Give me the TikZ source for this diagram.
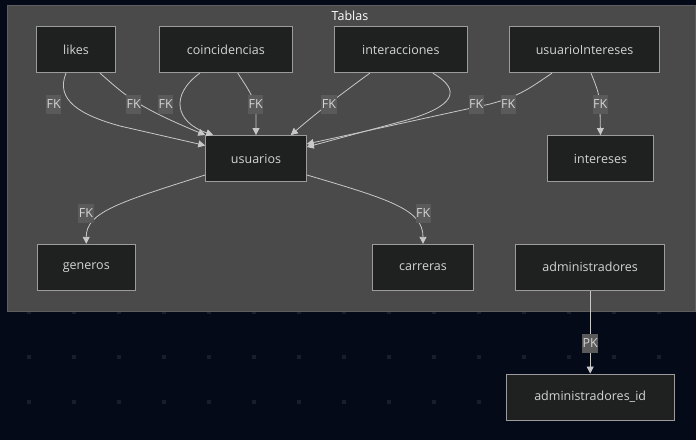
\documentclass[tikz,border=0pt]{standalone}
\usepackage{fontspec}
\setmainfont{Open Sans}
\usetikzlibrary{arrows.meta,calc}
\definecolor{bgc}{HTML}{050A18}
\definecolor{dotc}{HTML}{1A1E2B}
\definecolor{clfill}{HTML}{4A4A4A}
\definecolor{cldraw}{HTML}{5E5E5E}
\definecolor{nodefill}{HTML}{1F2020}
\definecolor{nodedraw}{HTML}{9C9C9C}
\definecolor{txtc}{HTML}{D4D4D4}
\definecolor{edgec}{HTML}{C8C8C8}
\definecolor{lblfill}{HTML}{5A5A5A}
\begin{document}
\begin{tikzpicture}[x=1pt,y=-1pt,
  tbl/.style={draw=nodedraw, fill=nodefill, line width=0.9pt, text=txtc,
    font=\fontsize{12.5}{14}\selectfont, minimum height=46pt, inner sep=0pt},
  lbl/.style={fill=lblfill, text=txtc, font=\fontsize{12.5}{14}\selectfont,
    inner xsep=0.5pt, inner ysep=0pt, minimum height=19pt},
  edge/.style={draw=edgec, line width=0.8pt, -{Triangle[length=7pt,width=7pt]}}]
\fill[bgc] (0,0) rectangle (696,440);
\useasboundingbox (0,0) rectangle (696,440);
\foreach \i in {0,...,15} {
  \foreach \j in {0,...,10} {
    \fill[dotc] ({27+45*\i},{-5+45*\j}) rectangle ++(4,4);
  }
}
\draw[cldraw, fill=clfill, line width=0.8pt] (7,5) rectangle (695,311.5);
\node[text=white, font=\fontsize{12.5}{14}\selectfont] (title) at (350,16) {Tablas};

\node[tbl, minimum width=79pt] (likes) at (76,49.7) {likes};
\node[tbl, minimum width=133pt] (coinc) at (225.8,49.7) {coincidencias};
\node[tbl, minimum width=133pt] (inter) at (400.8,49.7) {interacciones};
\node[tbl, minimum width=150pt] (uint) at (584.5,49.7) {usuarioIntereses};
\node[tbl, minimum width=100.6pt] (usuarios) at (256,158.5) {usuarios};
\node[tbl, minimum width=106.4pt] (intereses) at (600.5,158.5) {intereses};
\node[tbl, minimum width=98.7pt] (generos) at (86.3,267.3) {generos};
\node[tbl, minimum width=101.4pt] (carreras) at (423,267.3) {carreras};
\node[tbl, minimum width=149pt] (admin) at (590.2,267.3) {administradores};
\node[tbl, minimum width=167.7pt] (adminid) at (590.2,397) {administradores\_id};

% edges
\draw[edge] ($(likes.south)+(-10,0)$) .. controls (55,100) and (80,115) .. (120,126) -- ($(usuarios.west)+(0,-13)$);
\draw[edge] ($(likes.south)+(24,0)$) .. controls (125,95) and (135,106) .. (usuarios.north west);
\draw[edge] ($(coinc.south)+(-26,0)$) .. controls (170,95) and (175,122) .. ($(usuarios.north west)+(8,0)$);
\draw[edge] ($(coinc.south)+(12,0)$) .. controls (250,92) and (256,100) .. (256,115) -- (usuarios.north);
\draw[edge] ($(inter.south)+(-31,0)$) .. controls (340,95) and (320,110) .. ($(usuarios.north east)+(-16,0)$);
\draw[edge] ($(inter.south)+(32,0)$) .. controls (462,90) and (455,106) .. (407,120) -- ($(usuarios.east)+(0,-11.5)$);
\draw[edge] ($(uint.south)+(-32.5,0)$) .. controls (530,88) and (520,96) .. (490,104) -- ($(usuarios.east)+(0,-14.5)$);
\draw[edge] ($(uint.south)+(6.5,0)$) .. controls (597,88) and (600,95) .. (600,110) -- (intereses.north);
\draw[edge] ($(usuarios.south west)+(0,-7)$) .. controls (120,202) and (86,212) .. (generos.north);
\draw[edge] ($(usuarios.south east)+(0,-7)$) .. controls (392,200) and (423,210) .. (carreras.north);
\draw[edge] (admin.south) -- (adminid.north);

% labels
\node[lbl] (l1) at (53.7,104) {FK};
\node[lbl] (l2) at (133.7,104) {FK};
\node[lbl] (l3) at (165.7,104) {FK};
\node[lbl] (l4) at (255.7,104) {FK};
\node[lbl] (l5) at (329,104) {FK};
\node[lbl] (l6) at (476.3,104) {FK};
\node[lbl] (l7) at (508.3,104) {FK};
\node[lbl] (l8) at (600.3,104) {FK};
\node[lbl] (l9) at (86,213) {FK};
\node[lbl] (l10) at (423.3,213) {FK};
\node[lbl] (l11) at (590.3,343.3) {PK};
\end{tikzpicture}
\end{document}
